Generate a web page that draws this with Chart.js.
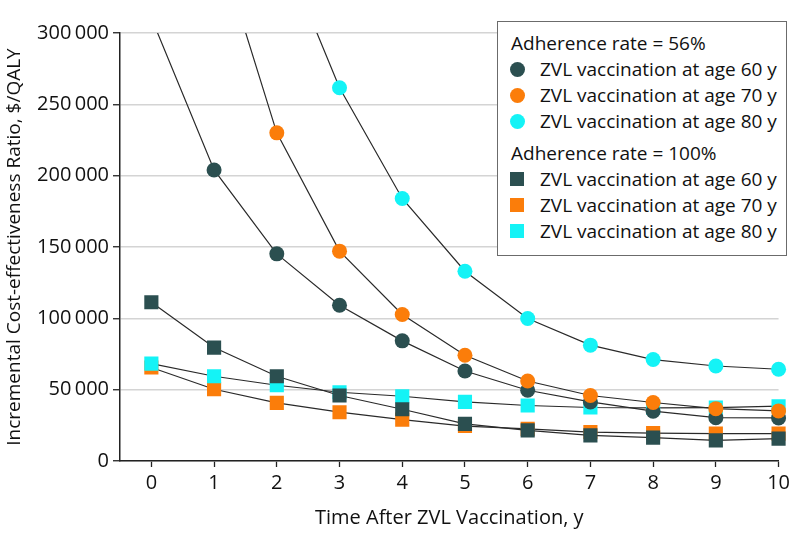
<!DOCTYPE html>
<html>
<head>
<meta charset="utf-8">
<script src="https://cdn.jsdelivr.net/npm/chart.js@4/dist/chart.umd.min.js"></script>
<style>
  html, body { margin:0; padding:0; background:#fff; }
  #wrap { position:relative; width:794px; height:546px; }
  #legend { position:absolute; left:497px; top:21px; width:290px; height:235px; box-sizing:border-box;
            border:1.5px solid #6b6b6b; background:#fff; padding-top:8px;
            font-family:'Open Sans', sans-serif; font-size:19px; color:#111; }
  .hdr { height:26px; line-height:26px; margin-left:13px; white-space:nowrap; }
  .hdr2 { margin-top:6px; }
  .item { height:26px; display:flex; align-items:center; white-space:nowrap; }
  .mk { width:15px; height:15px; margin-left:12px; flex:none; }
  .mk.circle { border-radius:50%; }
  .mk.square { width:14px; height:14px; margin-left:12px; margin-right:1px; }
  .txt { margin-left:15px; line-height:26px; }
</style>
</head>
<body>
<div id="wrap">
  <canvas id="c" width="794" height="546"></canvas>
  <div id="legend"></div>
</div>
<script>
// ---- data ----
const years = [0, 1, 2, 3, 4, 5, 6, 7, 8, 9, 10];
const groupTitles = ['Adherence rate = 56%', 'Adherence rate = 100%'];
const seriesNames = ['ZVL vaccination at age 60 y', 'ZVL vaccination at age 70 y', 'ZVL vaccination at age 80 y'];
// Adherence 56% (circles); values above 300 000 lie off the visible plot
const adh56Age60 = [310600, 204000, 145200, 109200, 84200, 63100, 49600, 41400, 34900, 30400, 30200];
const adh56Age70 = [null, 371400, 230000, 147100, 102700, 74100, 56100, 45900, 41000, 36700, 35100];
const adh56Age80 = [null, null, 368300, 261600, 184000, 133000, 99900, 81200, 71100, 66600, 64300];
// Adherence 100% (squares)
const adh100Age60 = [111300, 79500, 59400, 45900, 36300, 26000, 21500, 18000, 16400, 14500, 15700];
const adh100Age70 = [65500, 50300, 40700, 34200, 29000, 24500, 22500, 20300, 19600, 19200, 19200];
const adh100Age80 = [68300, 59400, 53100, 48200, 45400, 41400, 38900, 37500, 37300, 37400, 38400];
const yTicks = [0, 50000, 100000, 150000, 200000, 250000, 300000];
const xTitle = 'Time After ZVL Vaccination, y';
const yTitle = 'Incremental Cost-effectiveness Ratio, $/QALY';

// ---- styles ----
const colors = ['#2b4f50', '#fb7d0a', '#14f3f6'];
const FONT = "'Open Sans', sans-serif";

function pts(vals) { return years.map((x, i) => ({ x: x, y: vals[i] })); }
function fmt(v) {
  if (v === 0) return '0';
  const th = Math.floor(v / 1000), rest = String(v % 1000).padStart(3, '0');
  return th + '\u2009' + rest;
}

const circleSets = [adh56Age60, adh56Age70, adh56Age80];
const squareSets = [adh100Age60, adh100Age70, adh100Age80];
const circleOrder = [2, 1, 3];
const squareOrder = [4, 6, 5];

const datasets = [];
squareSets.forEach((vals, i) => datasets.push({
  label: groupTitles[1] + ' – ' + seriesNames[i], data: pts(vals), order: squareOrder[i],
  pointStyle: 'rect', pointRadius: 10, pointBackgroundColor: colors[i], pointBorderWidth: 0
}));
circleSets.forEach((vals, i) => datasets.push({
  label: groupTitles[0] + ' – ' + seriesNames[i], data: pts(vals), order: circleOrder[i],
  pointStyle: 'circle', pointRadius: 7.5, pointBackgroundColor: colors[i], pointBorderWidth: 0
}));
datasets.forEach(d => Object.assign(d, {
  borderColor: '#2a2a2a', borderWidth: 1.2, tension: 0, spanGaps: false, fill: false,
  clip: { left: 20, top: 0, right: 20, bottom: 20 }
}));

new Chart(document.getElementById('c'), {
  type: 'line',
  data: { datasets },
  options: {
    responsive: false, animation: false, events: [],
    layout: { padding: { left: 0, right: 14, top: 33, bottom: 0 } },
    plugins: { legend: { display: false }, tooltip: { enabled: false } },
    scales: {
      x: {
        type: 'linear', min: -0.5, max: 10,
        afterBuildTicks: s => { s.ticks = years.map(v => ({ value: v })); },
        afterFit: s => { s.height = 85; },
        grid: { drawOnChartArea: false, drawTicks: true, tickLength: 6, tickColor: '#222', tickWidth: 1.3 },
        border: { color: '#222', width: 1.5 },
        ticks: { color: '#111', font: { family: FONT, size: 20 }, padding: 4, maxRotation: 0,
                 callback: v => String(v) },
        title: { display: true, text: xTitle, color: '#111', font: { family: FONT, size: 20 },
                 padding: { top: 0, bottom: 16 } }
      },
      y: {
        min: 0, max: 300000,
        afterBuildTicks: s => { s.ticks = yTicks.map(v => ({ value: v })); },
        afterFit: s => { s.width = 120; },
        grid: { color: '#d4d4d4', lineWidth: 1.5, tickLength: 7, tickColor: '#222', tickWidth: 1.3 },
        border: { color: '#222', width: 1.5 },
        ticks: { color: '#111', font: { family: FONT, size: 20 }, padding: 4, callback: v => fmt(v) },
        title: { display: true, text: yTitle, color: '#111', font: { family: FONT, size: 19 },
                 padding: { top: 3, bottom: 0 } }
      }
    }
  }
});

// ---- legend (HTML text) ----
const lg = document.getElementById('legend');
function addGroup(title, shape, extraCls) {
  const h = document.createElement('div');
  h.className = 'hdr' + (extraCls ? ' ' + extraCls : '');
  h.textContent = title;
  lg.appendChild(h);
  seriesNames.forEach((n, i) => {
    const it = document.createElement('div'); it.className = 'item';
    const m = document.createElement('span'); m.className = 'mk ' + shape; m.style.background = colors[i];
    const t = document.createElement('span'); t.className = 'txt'; t.textContent = n;
    it.appendChild(m); it.appendChild(t); lg.appendChild(it);
  });
}
addGroup(groupTitles[0], 'circle');
addGroup(groupTitles[1], 'square', 'hdr2');
</script>
</body>
</html>
